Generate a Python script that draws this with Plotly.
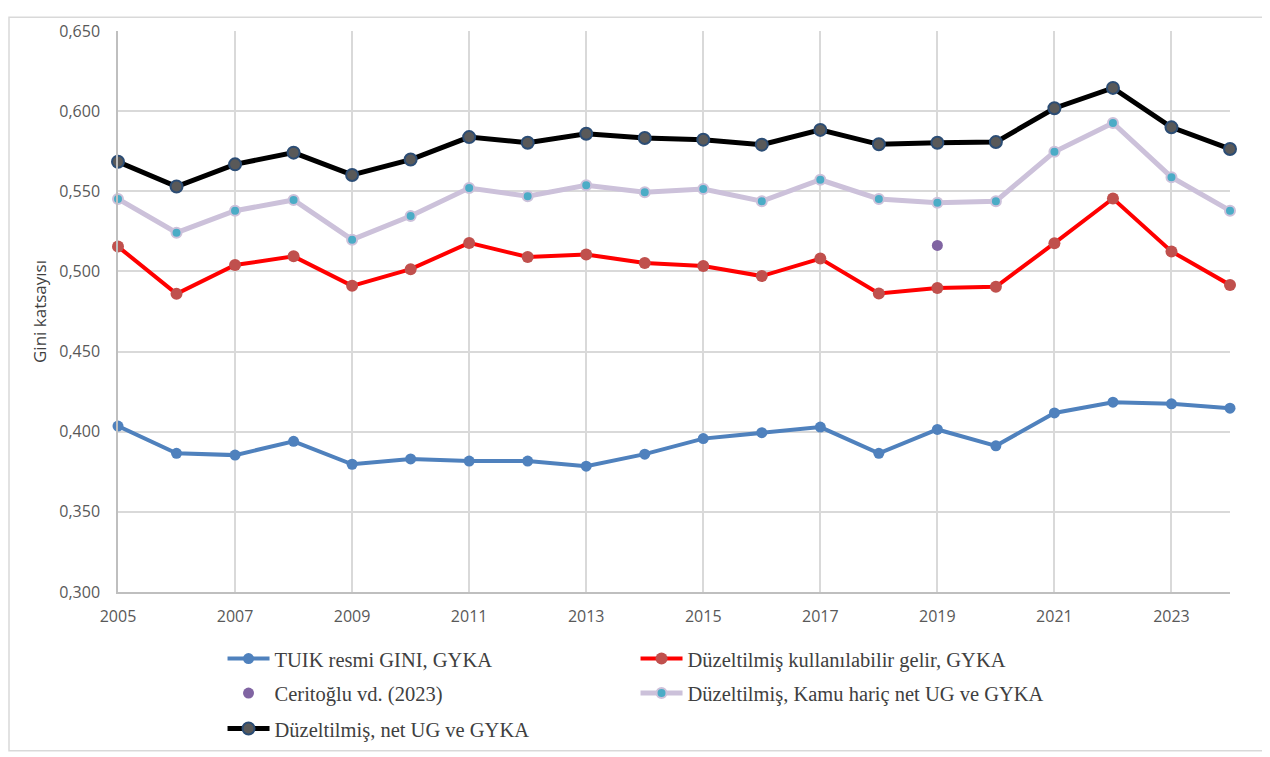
import plotly.graph_objects as go

years = list(range(2005, 2025))

tuik = [0.4035, 0.3865, 0.3854, 0.3940, 0.3797, 0.3830, 0.3817, 0.3817, 0.3785, 0.3860,
        0.3957, 0.3994, 0.4029, 0.3865, 0.4014, 0.3912, 0.4117, 0.4184, 0.4174, 0.4147]
duz_kull = [0.5155, 0.4860, 0.5040, 0.5094, 0.4910, 0.5014, 0.5178, 0.5090, 0.5106, 0.5053,
            0.5034, 0.4971, 0.5080, 0.4862, 0.4896, 0.4904, 0.5176, 0.5455, 0.5125, 0.4916]
ceritoglu_year = [2019]
ceritoglu = [0.5162]
kamu_haric = [0.5452, 0.5242, 0.5379, 0.5446, 0.5198, 0.5346, 0.5520, 0.5469, 0.5537, 0.5494,
              0.5514, 0.5438, 0.5572, 0.5452, 0.5428, 0.5438, 0.5746, 0.5926, 0.5588, 0.5379]
net_ug = [0.5684, 0.5530, 0.5668, 0.5741, 0.5602, 0.5698, 0.5838, 0.5803, 0.5859, 0.5832,
          0.5822, 0.5791, 0.5883, 0.5793, 0.5803, 0.5807, 0.6018, 0.6145, 0.5899, 0.5764]

fig = go.Figure()
fig.add_trace(go.Scatter(x=years, y=tuik, mode="lines+markers", name="TUIK resmi GINI, GYKA",
                         legend="legend",
                         line=dict(color="#4F81BD", width=4),
                         marker=dict(color="#4F81BD", size=11)))
fig.add_trace(go.Scatter(x=years, y=duz_kull, mode="lines+markers",
                         name="Düzeltilmiş kullanılabilir gelir, GYKA", legend="legend",
                         line=dict(color="#FF0000", width=4),
                         marker=dict(color="#C0504D", size=12)))
fig.add_trace(go.Scatter(x=ceritoglu_year, y=ceritoglu, mode="markers", name="Ceritoğlu vd. (2023)",
                         legend="legend2",
                         marker=dict(color="#8064A2", size=11)))
fig.add_trace(go.Scatter(x=years, y=kamu_haric, mode="lines+markers",
                         name="Düzeltilmiş, Kamu hariç net UG ve GYKA", legend="legend2",
                         line=dict(color="#CCC1DA", width=5),
                         marker=dict(color="#4BACC6", size=10, line=dict(color="#CCC1DA", width=2))))
fig.add_trace(go.Scatter(x=years, y=net_ug, mode="lines+markers",
                         name="Düzeltilmiş, net UG ve GYKA", legend="legend3",
                         line=dict(color="#000000", width=5),
                         marker=dict(color="#595959", size=12, line=dict(color="#2C4D75", width=2))))

fig.update_traces(cliponaxis=False)

tick_font = dict(family="Open Sans, Noto Sans, sans-serif", size=16, color="#595959")
leg_font = dict(family="Liberation Serif, Times New Roman, serif", size=20.5, color="#404040")


def leg(y):
    return dict(orientation="h", x=0.094, xanchor="left", y=y, yanchor="top",
                entrywidth=356, itemwidth=42, font=leg_font, bgcolor="rgba(0,0,0,0)")


fig.update_layout(
    width=1270, height=757,
    margin=dict(l=110, r=48, t=15, b=173),
    paper_bgcolor="white", plot_bgcolor="white",
    separators=",.",
    showlegend=True,
    xaxis=dict(range=[2005, 2024], tick0=2005, dtick=2, showgrid=True, gridcolor="#D9D9D9",
               gridwidth=1.5, zeroline=False, showline=True, linecolor="#BFBFBF", linewidth=1.5,
               ticks="", tickfont=tick_font, ticklabelstandoff=9),
    yaxis=dict(range=[0.3, 0.65], dtick=0.05, tickformat=".3f", showgrid=True,
               gridcolor="#D9D9D9", gridwidth=1.5, zeroline=False, showline=True,
               linecolor="#BFBFBF", linewidth=1.5, ticks="", tickfont=tick_font,
               ticklabelstandoff=13,
               title=dict(text="Gini katsayısı", font=dict(family="Open Sans, Noto Sans, sans-serif",
                                                          size=17, color="#404040"), standoff=8)),
    legend=leg(-0.0833),
    legend2=leg(-0.1448),
    legend3=leg(-0.2081),
    shapes=[dict(type="rect", xref="paper", yref="paper",
                 x0=-109/1112, x1=(1259 - 110) / 1112, y0=(584 - 745) / 569, y1=(584 - 1) / 569,
                 line=dict(color="#D9D9D9", width=1.5), fillcolor="rgba(0,0,0,0)", layer="below")],
)

fig.write_html("out.html")
